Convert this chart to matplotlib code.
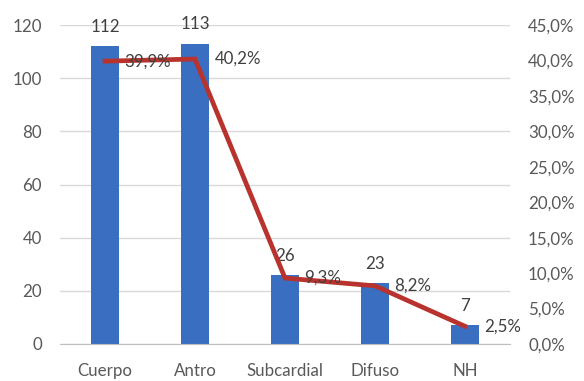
import matplotlib
matplotlib.use("Agg")
import matplotlib.pyplot as plt
from matplotlib.ticker import FixedLocator, FuncFormatter

plt.rcParams['font.family'] = ['Lato', 'DejaVu Sans']

# Data
categories = ["Cuerpo", "Antro", "Subcardial", "Difuso", "NH"]
counts = [112, 113, 26, 23, 7]
percents = [39.9, 40.2, 9.3, 8.2, 2.5]
left_ticks = [0, 20, 40, 60, 80, 100, 120]
right_ticks = [0, 5, 10, 15, 20, 25, 30, 35, 40, 45]

bar_color = "#3A6EC0"
line_color = "#B8332E"
tick_color = "#595959"
label_color = "#404040"
fs = 12.2

fig = plt.figure(figsize=(5.84, 3.81), dpi=100)
ax = fig.add_axes([60/584, 1 - 344/381, 450/584, 319/381])
ax2 = ax.twinx()

x = list(range(len(categories)))
ax.bar(x, counts, width=0.31, color=bar_color, zorder=2)
ax.set_xlim(-0.5, 4.5)
ax.set_ylim(0, 120)
ax.yaxis.set_major_locator(FixedLocator(left_ticks))
ax.grid(axis='y', color="#D9D9D9", linewidth=1, zorder=0)
ax.set_axisbelow(True)
ax.set_xticks(x)
ax.set_xticklabels(categories)
for s in ['top', 'left', 'right']:
    ax.spines[s].set_visible(False)
ax.spines['bottom'].set_color("#BFBFBF")
ax.tick_params(axis='both', length=0, labelsize=fs, colors=tick_color)
ax.tick_params(axis='x', pad=14)
ax.tick_params(axis='y', pad=13)

for xi, c in zip(x, counts):
    ax.annotate(str(c), (xi, c), xytext=(0, 8), textcoords='offset points',
                ha='center', va='bottom', fontsize=fs, color=label_color)

ax2.plot(x, percents, color=line_color, linewidth=3.4, zorder=3,
         solid_joinstyle='miter')
ax2.set_ylim(0, 45)
ax2.yaxis.set_major_locator(FixedLocator(right_ticks))
ax2.yaxis.set_major_formatter(FuncFormatter(lambda v, p: f"{v:.1f}%".replace('.', ',')))
for s in ['top', 'left', 'right', 'bottom']:
    ax2.spines[s].set_visible(False)
ax2.tick_params(axis='y', length=0, labelsize=fs, colors=tick_color, pad=13)

for xi, p in zip(x, percents):
    ax2.annotate(f"{p:.1f}%".replace('.', ','), (xi, p), xytext=(14, 0),
                 textcoords='offset points', ha='left', va='center',
                 fontsize=fs, color=label_color)

fig.savefig("out.png", dpi=100)
